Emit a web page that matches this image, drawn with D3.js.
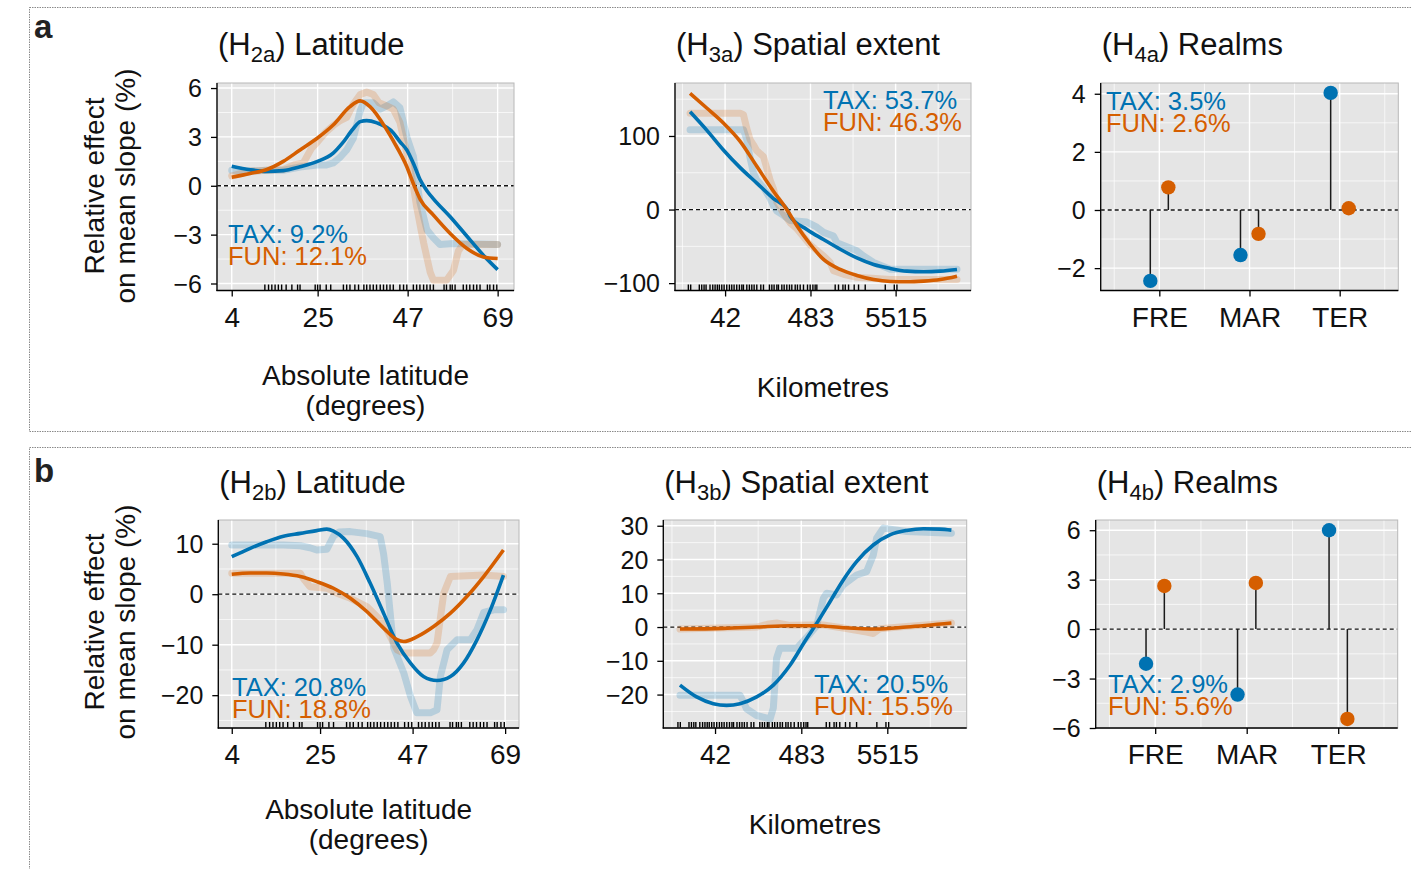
<!DOCTYPE html>
<html>
<head>
<meta charset="utf-8">
<script src="https://cdn.jsdelivr.net/npm/d3@7"></script>
<style>
  body { margin: 0; background: #ffffff; }
  svg { display: block; font-family: "Liberation Sans", Arial, Helvetica, sans-serif; }
</style>
</head>
<body>
<svg id="fig" width="1411" height="869"></svg>
<script>
// ---------------- data ----------------
// Latitude (degrees) of the sampled sites, shown as a rug
const siteLatitudes = [12.1,13.0,13.8,14.6,15.4,16.2,17.3,18.7,20.1,20.7,24.4,25.0,25.6,27.1,28.2,
  31.3,32.1,32.9,34.1,35.0,36.3,37.0,37.8,38.6,39.4,40.3,41.1,41.9,42.7,43.5,45.1,46.0,46.8,
  48.4,49.2,50.0,50.9,51.7,52.5,53.3,55.9,56.5,57.4,57.9,58.6,60.6,61.4,62.2,63.1,63.9,64.7,
  66.5,67.1,68.0,68.8];
// Spatial extent of the sampled sites, log10(km), shown as a rug
const siteExtentLog10 = [1.167,1.196,1.303,1.333,1.362,1.387,1.436,1.470,1.499,1.527,1.552,1.582,
  1.611,1.644,1.677,1.706,1.735,1.768,1.801,1.831,1.851,1.893,1.925,1.955,1.984,2.017,2.067,2.100,
  2.174,2.204,2.232,2.266,2.286,2.328,2.357,2.390,2.423,2.452,2.494,2.522,2.556,2.597,2.647,2.680,
  2.714,2.742,2.763,2.991,3.032,3.087,3.116,3.157,3.227,3.281,3.364,3.613,3.725,3.758];

// (H2a) latitude: [latitude, effect %]
const latA_taxSmooth = [[4,1.2],[8.5,0.98],[12.6,0.88],[16.6,0.93],[20.7,1.17],[24.8,1.48],[28.8,2.0],
  [31,2.6],[33.7,3.5],[35.4,3.94],[37,4.0],[39.5,3.86],[43.5,3.25],[45.1,2.71],[46.8,2.2],[48.4,1.38],
  [50,0.4],[51.7,-0.3],[53.3,-0.8],[57.4,-1.9],[61.5,-3.1],[65.5,-4.26],[69,-5.15]];
const latA_funSmooth = [[4,0.52],[8.5,0.75],[12.6,1.0],[16.6,1.5],[20.7,2.2],[24.8,2.9],[28.8,3.73],
  [32.9,4.86],[35.4,5.21],[37.8,4.86],[41.9,3.43],[43.5,2.75],[46.8,1.17],[48.6,0.0],[50.1,-0.85],
  [53.3,-1.8],[57.4,-2.93],[61.5,-3.85],[65.5,-4.37],[69,-4.47]];
const latA_taxRaw = [[4,0.95],[8.5,0.9],[12.6,0.95],[16.6,0.95],[20.7,1.15],[24.8,1.27],[27,1.27],
  [28.8,1.4],[30.5,1.75],[32.1,2.2],[33.7,2.9],[35.4,4.6],[36.2,5.1],[38.6,5.1],[40.3,4.7],[41.9,4.9],
  [43.5,5.15],[45.1,4.8],[46.8,3.0],[48.4,1.8],[50,-1.0],[51.7,-2.7],[53.3,-3.2],[54.9,-3.6],
  [58.2,-3.55],[69,-3.6]];
const latA_funRaw = [[4,0.6],[8.5,0.9],[12.6,0.95],[16.6,1.0],[19.5,1.3],[21.5,1.4],[23.5,2.3],[25,2.7],
  [27,3.3],[28.8,3.7],[30.5,4.0],[32.1,4.2],[33.7,5.0],[35.4,5.6],[37,5.75],[38.6,5.6],[40,5.1],
  [41.9,4.9],[43.5,4.7],[45.1,3.9],[46.8,2.0],[48.4,0.0],[49.2,-1.3],[50.9,-3.5],[52.5,-5.3],
  [53.3,-5.8],[56.5,-5.8],[58.2,-5.2],[59.4,-4.0],[60.5,-3.6],[69,-3.6]];

// (H3a) spatial extent: [log10 km, effect %]
const extA_taxSmooth = [[1.188,133],[1.395,108],[1.602,81],[1.81,57],[2.017,36],[2.224,15],[2.394,0],
  [2.432,-9],[2.639,-27],[2.846,-40.7],[3.053,-54],[3.26,-65.6],[3.468,-74.6],[3.675,-80],[3.882,-83.7],
  [4.09,-84.6],[4.297,-83.7],[4.504,-81.4]];
const extA_funSmooth = [[1.188,158],[1.395,138],[1.602,117.6],[1.81,92.7],[2.017,58.8],[2.224,25],
  [2.39,0],[2.515,-22],[2.68,-47],[2.846,-67.8],[3.053,-81.4],[3.26,-89.5],[3.468,-95],[3.675,-97.7],
  [3.882,-98.2],[4.09,-97.2],[4.297,-95],[4.504,-90.5]];
const extA_taxRaw = [[1.188,108.5],[1.851,108.5],[1.893,95],[1.934,70],[1.975,50],[2.017,40],[2.1,30],
  [2.183,15],[2.224,5],[2.266,-2],[2.349,-8],[2.432,-15],[2.639,-17],[2.763,-24],[2.846,-31],
  [2.97,-36],[3.012,-45],[3.26,-56],[3.343,-63],[3.468,-72],[3.675,-81],[4.504,-81]];
const extA_funRaw = [[1.188,131],[1.81,131],[1.851,129],[1.893,110],[1.934,95],[1.975,88],[2.017,80],
  [2.1,72],[2.183,40],[2.224,28],[2.266,10],[2.349,-5],[2.432,-18],[2.515,-26],[2.68,-48],[2.846,-63],
  [2.929,-72],[2.97,-83],[3.095,-88],[3.26,-92],[3.675,-95],[4.504,-95]];

// (H4a) realms
const realms = ["FRE", "MAR", "TER"];
const realmA_tax = [-2.44, -1.55, 4.03];
const realmA_fun = [0.78, -0.82, 0.06];

// (H2b) latitude
const latB_taxSmooth = [[4,7.43],[8.4,9.09],[12.3,10.4],[16.3,11.5],[20.3,12.05],[24.2,12.6],[26.6,12.9],
  [28.2,12.5],[30.6,11.06],[33.8,7.43],[36.9,2.2],[40.1,-3.76],[43.3,-9.69],[46.5,-13.65],[49.6,-16.3],
  [52.8,-17.1],[56,-16.3],[59.1,-13.65],[62.3,-9.04],[65.5,-3.1],[68.6,3.8]];
const latB_funSmooth = [[4,3.95],[8.4,4.2],[12.3,4.2],[16.3,4.0],[20.3,3.5],[24.2,2.5],[28.2,1.18],
  [32.2,-0.8],[36.1,-3.43],[40.1,-6.72],[43.3,-9.0],[44.9,-9.36],[48.1,-8.4],[52,-6.4],[56,-3.76],
  [59.9,-0.46],[63.9,3.5],[68.6,8.76]];
const latB_taxRaw = [[4,9.75],[16.3,9.75],[20.3,9.6],[22.6,9.2],[24.2,8.76],[26.6,8.9],[28.2,11.5],
  [29.5,12.3],[32.2,12.4],[36.1,12.0],[39.3,11.4],[40.1,8],[41,2],[41.7,-4],[42.5,-10.6],[44.9,-15.6],
  [46.5,-20.2],[48,-23.5],[51.2,-23.5],[52.8,-22.9],[53.6,-16.3],[55.2,-11],[57.6,-9.04],[60.7,-9.04],
  [62.3,-7.05],[63.9,-3.6],[66.3,-3.1],[68.6,-3.1]];
const latB_funRaw = [[4,4.15],[20.3,4.15],[21.1,3],[22.6,1.5],[26.6,1.2],[29,0.2],[32.2,-0.8],
  [36.1,-2.44],[40.1,-5.73],[41.7,-8.4],[43.3,-11.0],[44.9,-11.66],[51.2,-11.66],[52,-11.0],
  [52.8,-9.7],[54.4,0.2],[56,3.5],[63.9,3.82],[68.6,3.5]];

// (H3b) spatial extent
const extB_taxSmooth = [[1.192,-17.2],[1.397,-20.7],[1.602,-22.7],[1.766,-23.2],[1.93,-22.7],
  [2.135,-20.7],[2.34,-17.2],[2.545,-11.3],[2.75,-3.4],[2.873,1.08],[3.037,7.5],[3.2,13.96],
  [3.364,19.4],[3.569,24.3],[3.774,27.3],[3.979,28.6],[4.184,29.1],[4.389,29.0],[4.53,28.7]];
const extB_funSmooth = [[1.192,-0.6],[1.725,-0.4],[2.135,0],[2.545,0.4],[2.873,0.4],[3.2,-0.2],
  [3.61,-0.6],[3.979,0],[4.53,1.2]];
const extB_taxRaw = [[1.192,-20.2],[1.93,-20.2],[1.97,-22],[2.01,-24.2],[2.135,-26.2],[2.3,-27.2],
  [2.34,-24],[2.38,-9.3],[2.42,-6.3],[2.627,-6.3],[2.79,-2],[2.873,0.4],[2.955,8.5],[2.996,10],
  [3.119,9.5],[3.2,12.5],[3.364,15.4],[3.487,16.4],[3.569,21.3],[3.61,26.3],[3.692,29.3],
  [3.979,28.3],[4.53,27.8]];
const extB_funRaw = [[1.192,-0.6],[2.135,0],[2.266,0.8],[2.38,1.2],[2.545,0.5],[2.79,0.6],[2.955,0.6],
  [3.2,-0.3],[3.487,-1.5],[3.569,-1.9],[3.65,-0.5],[3.979,0.2],[4.53,1.2]];

// (H4b) realms
const realmB_tax = [-2.1, -3.97, 6.0];
const realmB_fun = [2.62, 2.8, -5.45];

// explained-variance labels
const notesA = [["TAX: 9.2%", "FUN: 12.1%"], ["TAX: 53.7%", "FUN: 46.3%"], ["TAX: 3.5%", "FUN: 2.6%"]];
const notesB = [["TAX: 20.8%", "FUN: 18.8%"], ["TAX: 20.5%", "FUN: 15.5%"], ["TAX: 2.9%", "FUN: 5.6%"]];

const latTicks = [4, 25, 47, 69];
const extentTicks = [42, 483, 5515];

// ---------------- drawing ----------------
const TAX_COL = "#0072B2";
const FUN_COL = "#D55E00";
const svg = d3.select("#fig");
const fmt = d3.format("");

// dotted frames around each row
svg.append("rect").attr("x", 29.5).attr("y", 7.5).attr("width", 1400).attr("height", 424)
  .attr("fill", "none").attr("stroke", "#8a8a8a").attr("stroke-width", 1).attr("stroke-dasharray", "1.5,1");
svg.append("rect").attr("x", 29.5).attr("y", 447.5).attr("width", 1400).attr("height", 440)
  .attr("fill", "none").attr("stroke", "#8a8a8a").attr("stroke-width", 1).attr("stroke-dasharray", "1.5,1");
svg.append("text").attr("x", 34).attr("y", 38).attr("font-size", 33).attr("font-weight", "bold").attr("fill", "#222").text("a");
svg.append("text").attr("x", 34).attr("y", 482).attr("font-size", 33).attr("font-weight", "bold").attr("fill", "#222").text("b");

let clipId = 0;

function drawPanel(p) {
  const [L, T, R, B] = p.box;
  const g = svg.append("g");
  const x = (p.xLog ? d3.scaleLog() : d3.scaleLinear()).domain(p.xDomain).range([L, R]);
  const y = d3.scaleLinear().domain(p.yDomain).range([B, T]);

  g.append("rect").attr("x", L).attr("y", T).attr("width", R - L).attr("height", B - T).attr("fill", "#e5e5e5");

  const grid = g.append("g").attr("stroke", "#ffffff");
  p.xMinor.forEach(v => grid.append("line").attr("x1", x(v)).attr("x2", x(v)).attr("y1", T).attr("y2", B).attr("stroke-width", 0.7));
  p.yMinor.forEach(v => grid.append("line").attr("x1", L).attr("x2", R).attr("y1", y(v)).attr("y2", y(v)).attr("stroke-width", 0.7));
  p.xTicks.forEach(v => grid.append("line").attr("x1", x(v)).attr("x2", x(v)).attr("y1", T).attr("y2", B).attr("stroke-width", 1.4));
  p.yTicks.forEach(v => grid.append("line").attr("x1", L).attr("x2", R).attr("y1", y(v)).attr("y2", y(v)).attr("stroke-width", 1.4));

  const id = "clip" + (clipId++);
  svg.append("clipPath").attr("id", id).append("rect").attr("x", L).attr("y", T).attr("width", R - L).attr("height", B - T);
  const plot = g.append("g").attr("clip-path", `url(#${id})`);

  // zero reference
  plot.append("line").attr("x1", L).attr("x2", R).attr("y1", y(0)).attr("y2", y(0))
    .attr("stroke", "#111").attr("stroke-width", 1.3).attr("stroke-dasharray", "4,3");

  if (p.curves) {
    const xv = p.xLog ? (d => x(Math.pow(10, d[0]))) : (d => x(d[0]));
    const raw = d3.line().x(xv).y(d => y(d[1]));
    const smooth = d3.line().x(xv).y(d => y(d[1])).curve(d3.curveMonotoneX);
    [[p.curves.taxRaw, TAX_COL], [p.curves.funRaw, FUN_COL]].forEach(([d, c]) =>
      plot.append("path").attr("d", raw(d)).attr("fill", "none").attr("stroke", c).attr("stroke-opacity", 0.2)
        .attr("stroke-width", 7).attr("stroke-linejoin", "round").attr("stroke-linecap", "round"));
    [[p.curves.taxSmooth, TAX_COL], [p.curves.funSmooth, FUN_COL]].forEach(([d, c]) =>
      plot.append("path").attr("d", smooth(d)).attr("fill", "none").attr("stroke", c)
        .attr("stroke-width", 3.6).attr("stroke-linecap", "butt"));
    const rugX = p.xLog ? (v => x(Math.pow(10, v))) : (v => x(v));
    plot.append("g").selectAll("line").data(p.rug).join("line")
      .attr("x1", rugX).attr("x2", rugX).attr("y1", B - 6).attr("y2", B)
      .attr("stroke", "#000").attr("stroke-width", 1.4);
  }

  if (p.realm) {
    const dodge = 0.1;
    const pts = [];
    p.realm.tax.forEach((v, i) => pts.push({ x: i + 1 - dodge, v, c: TAX_COL }));
    p.realm.fun.forEach((v, i) => pts.push({ x: i + 1 + dodge, v, c: FUN_COL }));
    plot.selectAll("line.stem").data(pts).join("line").attr("class", "stem")
      .attr("x1", d => x(d.x)).attr("x2", d => x(d.x)).attr("y1", y(0)).attr("y2", d => y(d.v))
      .attr("stroke", "#1a1a1a").attr("stroke-width", 1.5);
    g.selectAll("circle").data(pts).join("circle")
      .attr("cx", d => x(d.x)).attr("cy", d => y(d.v)).attr("r", 7.2).attr("fill", d => d.c);
  }

  // panel border and axis lines
  g.append("rect").attr("x", L).attr("y", T).attr("width", R - L).attr("height", B - T)
    .attr("fill", "none").attr("stroke", "#b8b8b8").attr("stroke-width", 1);
  g.append("line").attr("x1", L).attr("x2", L).attr("y1", T).attr("y2", B + 0.6).attr("stroke", "#000").attr("stroke-width", 1.3);
  g.append("line").attr("x1", L - 0.6).attr("x2", R).attr("y1", B).attr("y2", B).attr("stroke", "#000").attr("stroke-width", 1.3);

  const yAxis = g.append("g").attr("transform", `translate(${L},0)`)
    .call(d3.axisLeft(y).tickValues(p.yTicks).tickSize(6).tickPadding(9).tickFormat(d3.format("")));
  const xAxis = g.append("g").attr("transform", `translate(0,${B})`)
    .call(d3.axisBottom(x).tickValues(p.xTicks).tickSize(6).tickPadding(10.5).tickFormat(p.xFormat || fmt));
  [yAxis, xAxis].forEach(a => {
    a.select(".domain").remove();
    a.selectAll(".tick line").attr("stroke", "#000").attr("stroke-width", 1.3);
    a.selectAll(".tick text").attr("fill", "#111").attr("font-family", null);
  });
  yAxis.selectAll(".tick text").attr("font-size", 25).attr("dy", "0.35em");
  xAxis.selectAll(".tick text").attr("font-size", 28);

  // title with subscript hypothesis code
  const t = svg.append("text").attr("x", L + 1).attr("y", p.titleY).attr("font-size", 31).attr("fill", "#111");
  t.append("tspan").text("(H");
  t.append("tspan").attr("font-size", 22).attr("dy", 7).text(p.sub);
  t.append("tspan").attr("dy", -7).text(") " + p.name);

  // explained variance labels, two tight lines in one text block
  const note = svg.append("text").attr("x", p.note.x).attr("y", p.note.y).attr("font-size", 25.5);
  note.append("tspan").attr("x", p.note.x).attr("fill", TAX_COL).text(p.note.text[0]);
  note.append("tspan").attr("x", p.note.x).attr("dy", 22).attr("fill", FUN_COL).text(p.note.text[1]);

  // x axis title
  if (p.xTitle) {
    const cx = (L + R) / 2;
    p.xTitle.forEach((line, i) => svg.append("text").attr("x", cx).attr("y", p.xTitleY + i * 30)
      .attr("text-anchor", "middle").attr("font-size", 28).attr("fill", "#111").text(line));
  }
  // y axis title
  if (p.yTitle) {
    const cy = p.yTitleY;
    ["Relative effect", "on mean slope (%)"].forEach((line, i) => svg.append("text")
      .attr("transform", `translate(${104 + i * 31},${cy}) rotate(-90)`)
      .attr("text-anchor", "middle").attr("font-size", 28).attr("fill", "#111").text(line));
  }
}

const rowA = { T: 83, B: 290.5 };
const rowB = { T: 520, B: 728 };

drawPanel({
  box: [217, rowA.T, 514, rowA.B], xDomain: [0.4, 73], yDomain: [-6.43, 6.31],
  xTicks: latTicks, xMinor: [14.5, 36, 58], yTicks: [-6, -3, 0, 3, 6], yMinor: [-4.5, -1.5, 1.5, 4.5],
  curves: { taxSmooth: latA_taxSmooth, funSmooth: latA_funSmooth, taxRaw: latA_taxRaw, funRaw: latA_funRaw },
  rug: siteLatitudes, sub: "2a", name: "Latitude", titleY: 55,
  note: { x: 228, y: 243, text: notesA[0] },
  xTitle: ["Absolute latitude", "(degrees)"], xTitleY: 385, yTitle: true, yTitleY: 186
});
drawPanel({
  box: [675, rowA.T, 971, rowA.B], xLog: true, xDomain: [Math.pow(10, 1.001), Math.pow(10, 4.678)],
  yDomain: [-110, 172], xTicks: extentTicks, xMinor: [12.4, 142.4, 1632, 18636],
  yTicks: [-100, 0, 100], yMinor: [-50, 50, 150],
  curves: { taxSmooth: extA_taxSmooth, funSmooth: extA_funSmooth, taxRaw: extA_taxRaw, funRaw: extA_funRaw },
  rug: siteExtentLog10, sub: "3a", name: "Spatial extent", titleY: 55,
  note: { x: 823, y: 109, text: notesA[1] },
  xTitle: ["Kilometres"], xTitleY: 397
});
drawPanel({
  box: [1100.7, rowA.T, 1398.3, rowA.B], xDomain: [0.35, 3.65], yDomain: [-2.77, 4.37],
  xTicks: [1, 2, 3], xMinor: [0.5, 1.5, 2.5, 3.5], xFormat: d => realms[d - 1],
  yTicks: [-2, 0, 2, 4], yMinor: [-1, 1, 3],
  realm: { tax: realmA_tax, fun: realmA_fun }, sub: "4a", name: "Realms", titleY: 55,
  note: { x: 1106, y: 110, text: notesA[2] }
});

drawPanel({
  box: [218.3, rowB.T, 519, rowB.B], xDomain: [0.8, 72.3], yDomain: [-26.5, 14.7],
  xTicks: latTicks, xMinor: [14.5, 36, 58], yTicks: [-20, -10, 0, 10], yMinor: [-25, -15, -5, 5],
  curves: { taxSmooth: latB_taxSmooth, funSmooth: latB_funSmooth, taxRaw: latB_taxRaw, funRaw: latB_funRaw },
  rug: siteLatitudes, sub: "2b", name: "Latitude", titleY: 493,
  note: { x: 232, y: 696, text: notesB[0] },
  xTitle: ["Absolute latitude", "(degrees)"], xTitleY: 819, yTitle: true, yTitleY: 622
});
drawPanel({
  box: [663.3, rowB.T, 966.7, rowB.B], xLog: true, xDomain: [Math.pow(10, 0.987), Math.pow(10, 4.718)],
  yDomain: [-29.9, 31.7], xTicks: extentTicks, xMinor: [12.4, 142.4, 1632, 18636],
  yTicks: [-20, -10, 0, 10, 20, 30], yMinor: [-25, -15, -5, 5, 15, 25],
  curves: { taxSmooth: extB_taxSmooth, funSmooth: extB_funSmooth, taxRaw: extB_taxRaw, funRaw: extB_funRaw },
  rug: siteExtentLog10, sub: "3b", name: "Spatial extent", titleY: 493,
  note: { x: 814, y: 693, text: notesB[1] },
  xTitle: ["Kilometres"], xTitleY: 834
});
drawPanel({
  box: [1095.7, rowB.T, 1397.7, rowB.B], xDomain: [0.35, 3.65], yDomain: [-6.0, 6.62],
  xTicks: [1, 2, 3], xMinor: [0.5, 1.5, 2.5, 3.5], xFormat: d => realms[d - 1],
  yTicks: [-6, -3, 0, 3, 6], yMinor: [-4.5, -1.5, 1.5, 4.5],
  realm: { tax: realmB_tax, fun: realmB_fun }, sub: "4b", name: "Realms", titleY: 493,
  note: { x: 1108, y: 693, text: notesB[2] }
});
</script>
</body>
</html>
